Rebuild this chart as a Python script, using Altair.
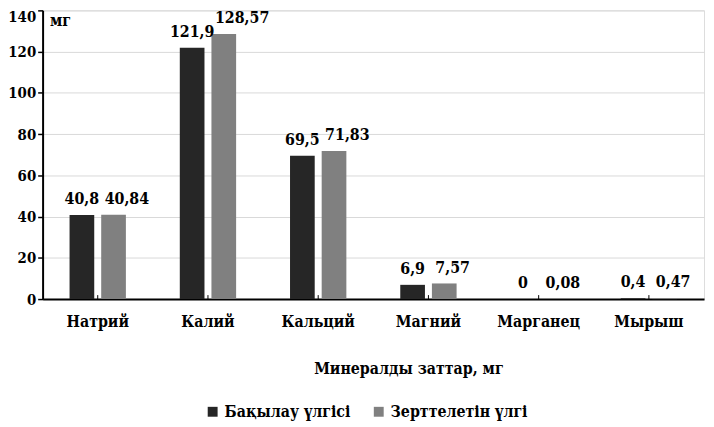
import altair as alt
import pandas as pd

categories = ["Натрий", "Калий", "Кальций", "Магний", "Марганец", "Мырыш"]
series = ["Бақылау үлгісі", "Зерттелетін үлгі"]
control = [40.8, 121.9, 69.5, 6.9, 0, 0.4]
studied = [40.84, 128.57, 71.83, 7.57, 0.08, 0.47]
colors = ["#262626", "#808080"]
y_ticks = [0, 20, 40, 60, 80, 100, 120, 140]

rows = []
for c, a, b in zip(categories, control, studied):
    rows.append({"cat": c, "series": series[0], "value": a, "label": str(a).replace(".", ",")})
    rows.append({"cat": c, "series": series[1], "value": b, "label": str(b).replace(".", ",")})
df = pd.DataFrame(rows)

FONT = "DejaVu Serif Condensed, DejaVu Serif"
FS = 16
W, H = 669, 292

x_enc = alt.X("cat:N", sort=categories,
              scale=alt.Scale(domain=categories, paddingInner=0.489, paddingOuter=0.2445),
              axis=alt.Axis(title="Минералды заттар, мг", labelAngle=0, ticks=False,
                            labelPadding=15, labelFontSize=FS, labelFont=FONT,
                            labelFontWeight="bold", labelColor="black",
                            domainColor="black", domainWidth=2, grid=False,
                            titleFont=FONT, titleFontSize=FS, titleFontWeight="bold",
                            titleColor="black", titleX=370, titleY=75,
                            titleAlign="center", titleBaseline="alphabetic"))
xo_enc = alt.XOffset("series:N", sort=series,
                     scale=alt.Scale(domain=series, paddingInner=0.22, paddingOuter=0))
y_enc = alt.Y("value:Q",
              scale=alt.Scale(domain=[0, 140], nice=False),
              axis=alt.Axis(title="мг", values=y_ticks, tickSize=5, tickColor="black",
                            tickWidth=1.5, domainColor="black", domainWidth=2,
                            gridColor="#d9d9d9", gridWidth=1,
                            labelFont=FONT, labelFontSize=15, labelFontWeight="bold",
                            labelColor="black", labelPadding=2,
                            labelOffset=alt.condition("datum.value == 140", alt.value(6), alt.value(0)),
                            titleAngle=0, titleAlign="left", titleBaseline="alphabetic",
                            titleX=7, titleY=15, titleFont=FONT, titleFontSize=FS,
                            titleFontWeight="bold", titleColor="black"))

base = alt.Chart(df)

bars = base.mark_bar().encode(
    x=x_enc, xOffset=xo_enc, y=y_enc,
    color=alt.Color("series:N", sort=series,
                    scale=alt.Scale(domain=series, range=colors),
                    legend=alt.Legend(title=None, orient="none", direction="horizontal",
                                      legendX=164, legendY=398, symbolType="square",
                                      symbolSize=100, symbolStrokeWidth=0,
                                      labelFont=FONT, labelFontSize=FS,
                                      labelFontWeight="bold", labelColor="black",
                                      labelOffset=4, columnPadding=20)),
)

text_dark = base.transform_filter(alt.datum.series == series[0]).mark_text(
    font=FONT, fontSize=FS, fontWeight="bold", color="black",
    align="center", baseline="alphabetic", dy=-11
).encode(x=alt.X("cat:N", sort=categories), xOffset=xo_enc, y="value:Q", text="label:N")

text_gray = base.transform_filter(alt.datum.series == series[1]).mark_text(
    font=FONT, fontSize=FS, fontWeight="bold", color="black",
    align="left", baseline="alphabetic", dx=-9, dy=-11
).encode(x=alt.X("cat:N", sort=categories), xOffset=xo_enc, y="value:Q", text="label:N")

ticks = alt.Chart(pd.DataFrame({"cat": categories})).mark_rule(
    color="black", strokeWidth=1
).encode(x=alt.X("cat:N", sort=categories), y=alt.value(H - 4), y2=alt.value(H))

chart = alt.layer(bars, ticks, text_dark, text_gray).properties(
    width=W, height=H,
    autosize=alt.AutoSizeParams(type="none"),
    padding={"left": 35, "top": 0, "right": 2, "bottom": 127},
).configure_view(stroke=None).configure(background="white")

chart.save("out.html", embed_options={"renderer": "svg", "actions": False})
